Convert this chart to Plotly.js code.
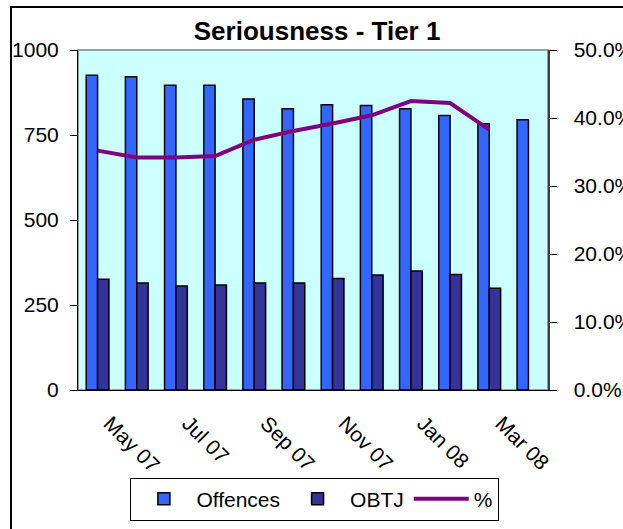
<!DOCTYPE html>
<html>
<head>
<meta charset="utf-8">
<script src="https://cdn.plot.ly/plotly-3.0.1.min.js"></script>
<style>
  html, body { margin: 0; padding: 0; overflow: hidden; background: #fff; }
  #frame { position: absolute; left: 10px; top: 6px; width: 640px; height: 560px; border: 2px solid #000; }
  #chart { position: absolute; left: 0; top: 0; width: 623px; height: 529px; }
</style>
</head>
<body>
<div id="frame"></div>
<div id="chart"></div>
<script>
const months = ['Apr 07', 'May 07', 'Jun 07', 'Jul 07', 'Aug 07', 'Sep 07',
                'Oct 07', 'Nov 07', 'Dec 07', 'Jan 08', 'Feb 08', 'Mar 08'];
const offences = [926, 921, 896, 896, 856, 827, 839, 837, 827, 807, 783, 795];
const obtj = [326, 315, 306, 309, 315, 315, 328, 338, 350, 340, 299, null];
const pct = [0.352, 0.342, 0.342, 0.344, 0.368, 0.381, 0.392, 0.404, 0.425, 0.422, 0.383, null];
const labelMonths = ['May 07', 'Jul 07', 'Sep 07', 'Nov 07', 'Jan 08', 'Mar 08'];
const tickBounds = [-0.5, 2.5, 5.5, 8.5, 11.5];

const font = 'Liberation Sans, Arial, sans-serif';

const traces = [
  {
    x: months, y: offences, type: 'bar', name: 'Offences',
    marker: { color: '#3366FF', line: { color: '#000', width: 1.5 } },
    hoverinfo: 'skip'
  },
  {
    x: months, y: obtj, type: 'bar', name: 'OBTJ',
    marker: { color: '#333399', line: { color: '#000', width: 1.5 } },
    hoverinfo: 'skip'
  },
  {
    x: months, y: pct, type: 'scatter', mode: 'lines', name: '%', yaxis: 'y2',
    line: { color: '#800080', width: 4 },
    hoverinfo: 'skip'
  }
];

// tick marks cross the category axis every 3 months, labels every 2
const crossTicks = {
  overlaying: 'x', anchor: 'y', range: [-0.5, 11.5],
  tickmode: 'array', tickvals: tickBounds,
  showticklabels: false, showgrid: false, zeroline: false, showline: false,
  tickcolor: '#000', tickwidth: 1
};

const layout = {
  width: 623, height: 529,
  margin: { l: 78, r: 75, t: 50, b: 139, autoexpand: false },
  paper_bgcolor: 'rgba(0,0,0,0)',
  plot_bgcolor: '#CCFFFF',
  font: { family: font, size: 21, color: '#000' },
  title: {
    text: 'Seriousness - Tier 1',
    font: { family: font, size: 26, weight: 'bold', color: '#000' },
    x: 0.509, xanchor: 'center', y: 0.941, yanchor: 'middle'
  },
  barmode: 'group', bargap: 0.42, bargroupgap: 0,
  showlegend: true,
  legend: {
    orientation: 'h', x: 0.504, xanchor: 'center', y: -0.258, yanchor: 'top',
    bgcolor: '#fff', bordercolor: '#000', borderwidth: 1,
    itemwidth: 55,
    font: { family: font, size: 21 }
  },
  xaxis: {
    type: 'category', tickmode: 'array', tickvals: labelMonths,
    tickangle: 45, ticks: '', showgrid: false,
    showline: true, linecolor: '#000', linewidth: 1,
    ticklabelshift: -27, ticklabelstandoff: 12
  },
  xaxis2: Object.assign({}, crossTicks, { ticks: 'outside', ticklen: 6 }),
  xaxis3: Object.assign({}, crossTicks, { ticks: 'inside', ticklen: 7 }),
  yaxis: {
    range: [0, 1000], dtick: 250, showgrid: false, zeroline: false,
    showline: true, linecolor: '#000', linewidth: 1,
    ticks: 'outside', ticklen: 7, tickcolor: '#000', ticklabelstandoff: 7
  },
  yaxis2: {
    overlaying: 'y', side: 'right', range: [0, 0.5], dtick: 0.1, tickformat: '.1%',
    showgrid: false, zeroline: false,
    showline: true, linecolor: '#404040', linewidth: 1.5,
    ticks: 'outside', ticklen: 7, tickcolor: '#000', ticklabelstandoff: 13
  },
  shapes: [{
    type: 'rect', xref: 'paper', yref: 'paper', x0: 0, x1: 1, y0: 0, y1: 1,
    line: { color: '#808080', width: 1.5 }, layer: 'below'
  }]
};

Plotly.newPlot('chart', traces, layout, { displayModeBar: false, staticPlot: true });
</script>
</body>
</html>
